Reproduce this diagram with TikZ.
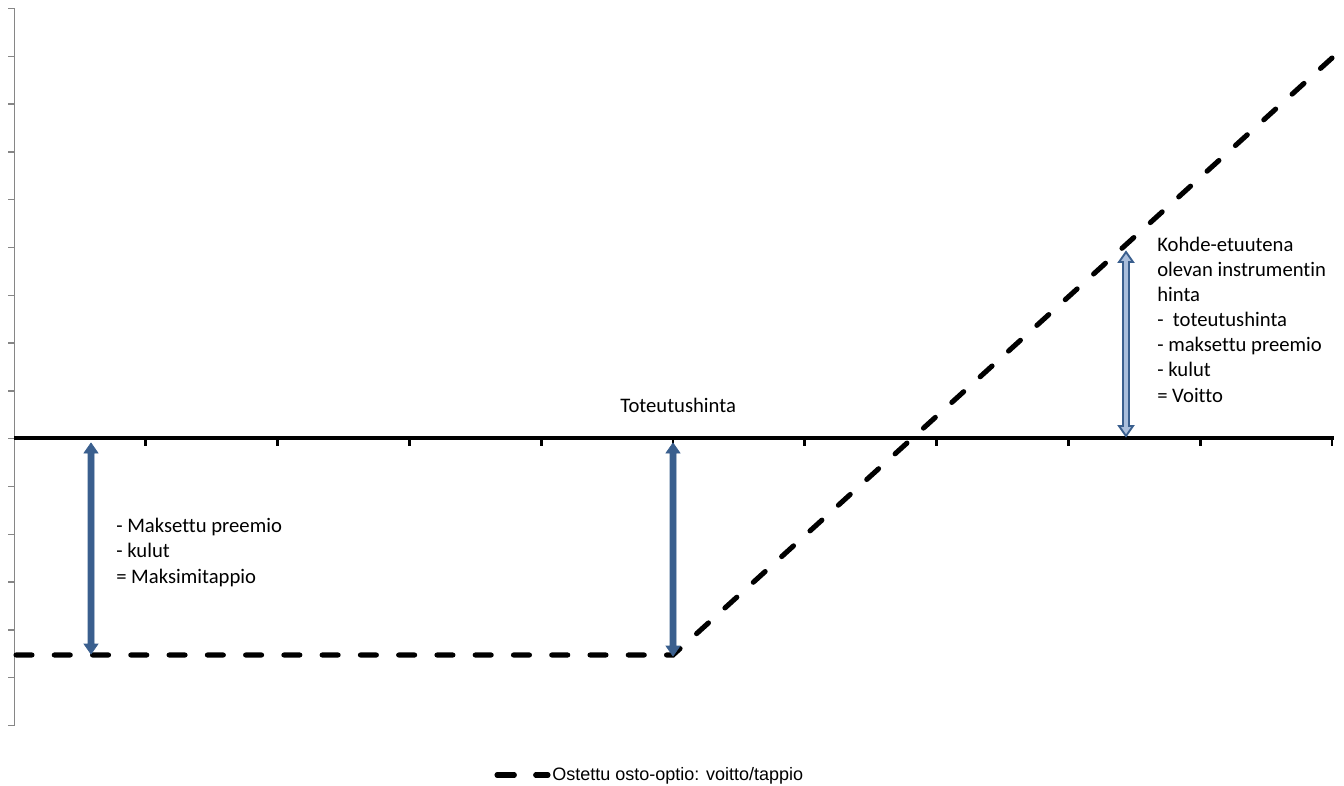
\documentclass[tikz,border=0pt]{standalone}
\usepackage{fontspec}
\setmainfont{Carlito}[Ligatures=NoCommon]
\newfontfamily\legendfont{Liberation Sans}
\usetikzlibrary{calc}
\definecolor{arrowblue}{HTML}{3A5F8E}
\definecolor{arrowlight}{HTML}{A9BEDC}
\definecolor{axisgrey}{HTML}{868686}
\tikzset{
  axisline/.style={black, line width=2.4pt},
  xtick/.style={black, line width=2pt},
  yaxis/.style={axisgrey, line width=1.1pt},
  ytick/.style={axisgrey, line width=1pt},
  payoff/.style={black, line width=3.8pt, line cap=round, dash pattern=on 12pt off 16.7pt},
  solidarrow/.style={fill=arrowblue, draw=arrowblue, line width=0.5pt},
  hollowarrow/.style={fill=arrowlight, draw=arrowblue, line width=1.4pt},
  label/.style={inner sep=0pt, anchor=base west, font=\fontsize{15.5}{18.9}\selectfont},
  legendtext/.style={inner sep=0pt, anchor=base west, font=\legendfont\fontsize{13.5}{16}\selectfont}
}
\newcommand{\blockarrow}[3]{%
  \draw[#3] (#1) -- ($(#1)+(7,10)$) -- ($(#1)+(3,10)$) -- ($(#2)+(3,-10)$) -- ($(#2)+(7,-10)$)
    -- (#2) -- ($(#2)+(-7,-10)$) -- ($(#2)+(-3,-10)$) -- ($(#1)+(-3,10)$) -- ($(#1)+(-7,10)$) -- cycle;}
\begin{document}
\begin{tikzpicture}[x=0.75pt, y=-0.75pt]
\useasboundingbox (0,0) rectangle (1344,785);
% axes
\coordinate (ytop) at (14.5,8.5);
\coordinate (ybot) at (14.5,725);
\coordinate (xl) at (14,438);
\coordinate (xr) at (1334,438);
\draw[yaxis] (ytop) -- (ybot);
\foreach \k in {0,...,15} {
  \draw[ytick] (8,{8.5+47.8*\k}) -- (14.5,{8.5+47.8*\k});
}
\draw[axisline] (xl) -- (xr);
\foreach \k in {1,...,10} {
  \draw[xtick] ({14+131.8*\k},438) -- ({14+131.8*\k},446);
}
% payoff line
\coordinate (p0) at (16,655);
\coordinate (pk) at (673,655);
\coordinate (p1) at (1332,58);
\draw[payoff] (p0) -- (pk) -- (p1);
% arrows
\coordinate (a1t) at (91,443);
\coordinate (a1b) at (91,654);
\coordinate (a2t) at (673,443);
\coordinate (a2b) at (673,656);
\coordinate (a3t) at (1126,252);
\coordinate (a3b) at (1126,436);
\blockarrow{a1t}{a1b}{solidarrow}
\blockarrow{a2t}{a2b}{solidarrow}
\blockarrow{a3t}{a3b}{hollowarrow}
% texts
\node[label] (strike) at (620,412) {Toteutushinta};
\node[label] (loss1) at (116,532) {- Maksettu preemio};
\node[label] (loss2) at (116,557.5) {- kulut};
\node[label] (loss3) at (116,583) {= Maksimitappio};
\node[label] (g1) at (1157,251) {Kohde-etuutena};
\node[label] (g2) at (1157,276) {olevan instrumentin};
\node[label] (g3) at (1157,301) {hinta};
\node[label] (g4) at (1157,326.5) {-\ \ toteutushinta};
\node[label] (g5) at (1157,351.5) {- maksettu preemio};
\node[label] (g6) at (1157,376.5) {- kulut};
\node[label] (g7) at (1157,402) {= Voitto};
% legend
\coordinate (l0) at (497,775);
\coordinate (l1) at (548,775);
\draw[payoff, dash pattern=on 13pt off 16pt] (l0) -- (l1);
\node[legendtext] (leg) at (552,780) {Ostettu osto-optio: voitto/tappio};
\end{tikzpicture}
\end{document}
